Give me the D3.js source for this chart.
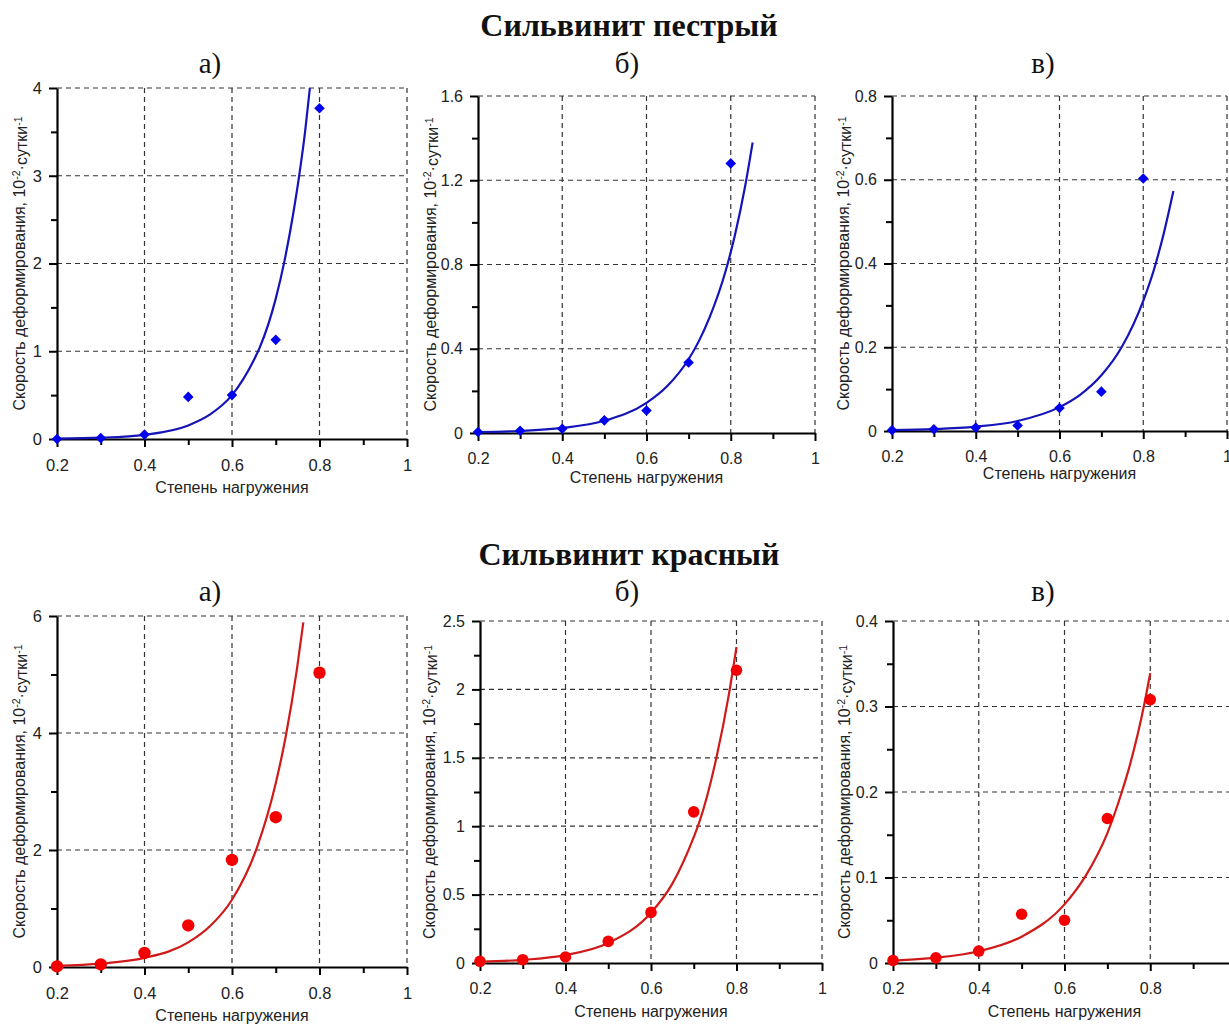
<!DOCTYPE html>
<html>
<head>
<meta charset="utf-8">
<script src="https://cdnjs.cloudflare.com/ajax/libs/d3/7.8.5/d3.min.js"></script>
<style>
  body { margin: 0; background: #fff; }
  svg { display: block; }
  .tick text { font-family: "Liberation Sans", Arial, sans-serif; fill: #222; }
  .axis-title { font-family: "Liberation Sans", Arial, sans-serif; fill: #222; }
  .title { font-family: "Liberation Serif", "Times New Roman", serif; font-weight: bold; fill: #111; }
  .subtitle { font-family: "Liberation Serif", "Times New Roman", serif; fill: #111; }
</style>
</head>
<body>
<script>
// ============= Data =============
// Load level (x) for every measured point
const loadLevels = [0.2, 0.3, 0.4, 0.5, 0.6, 0.7, 0.8];

// Measured strain rates, 10^-2 day^-1
const pestryA = [0, 0.01, 0.05, 0.48, 0.50, 1.13, 3.77];
const pestryB = [0.005, 0.011, 0.02, 0.06, 0.107, 0.335, 1.28];
const pestryV = [0.002, 0.004, 0.008, 0.013, 0.055, 0.094, 0.603];
const krasnyA = [0.01, 0.045, 0.24, 0.71, 1.83, 2.56, 5.03];
const krasnyB = [0.012, 0.024, 0.044, 0.158, 0.37, 1.105, 2.14];
const krasnyV = [0.003, 0.006, 0.014, 0.057, 0.05, 0.169, 0.308];

// Trend curves
const pestryAFitX = [0.2, 0.3, 0.4, 0.5, 0.55, 0.6, 0.65, 0.664, 0.7, 0.72, 0.74, 0.755, 0.767, 0.778];
const pestryAFitY = [0.005, 0.015, 0.048, 0.155, 0.28, 0.50, 0.90, 1.05, 1.60, 2.03, 2.57, 3.05, 3.5, 4.0];
const pestryBFitX = [0.2, 0.3, 0.4, 0.5, 0.6, 0.65, 0.7, 0.724, 0.75, 0.788, 0.81, 0.834, 0.852];
const pestryBFitY = [0.004, 0.0096, 0.024, 0.058, 0.143, 0.224, 0.35, 0.435, 0.55, 0.77, 0.94, 1.17, 1.379];
const pestryVFitX = [0.2, 0.3, 0.4, 0.5, 0.6, 0.65, 0.7, 0.75, 0.8, 0.826, 0.85, 0.872];
const pestryVFitY = [0.0019, 0.0044, 0.0104, 0.024, 0.057, 0.087, 0.133, 0.203, 0.311, 0.387, 0.476, 0.573];
const krasnyAFitX = [0.2, 0.3, 0.4, 0.5, 0.55, 0.6, 0.656, 0.7, 0.723, 0.748, 0.763];
const krasnyAFitY = [0.021, 0.057, 0.155, 0.42, 0.70, 1.15, 2.02, 3.14, 3.95, 5.07, 5.89];
const krasnyBFitX = [0.2, 0.3, 0.4, 0.5, 0.6, 0.65, 0.7, 0.712, 0.753, 0.782, 0.8];
const krasnyBFitY = [0.0092, 0.023, 0.058, 0.146, 0.367, 0.58, 0.92, 1.02, 1.5, 1.96, 2.31];
const krasnyVFitX = [0.2, 0.3, 0.4, 0.5, 0.6, 0.65, 0.7, 0.735, 0.75, 0.787, 0.8];
const krasnyVFitY = [0.0028, 0.0062, 0.0138, 0.0308, 0.0686, 0.1025, 0.152, 0.202, 0.227, 0.305, 0.339];

// Tick values
const xMajorTicks = [0.2, 0.4, 0.6, 0.8, 1];
const xMinorTicks = [0.3, 0.5, 0.7, 0.9];
const yTicksA1 = [0, 1, 2, 3, 4],          yMinorA1 = [0.5, 1.5, 2.5, 3.5];
const yTicksB1 = [0, 0.4, 0.8, 1.2, 1.6],  yMinorB1 = [0.2, 0.6, 1.0, 1.4];
const yTicksV1 = [0, 0.2, 0.4, 0.6, 0.8],  yMinorV1 = [0.1, 0.3, 0.5, 0.7];
const yTicksA2 = [0, 2, 4, 6],             yMinorA2 = [1, 3, 5];
const yTicksB2 = [0, 0.5, 1, 1.5, 2, 2.5], yMinorB2 = [0.25, 0.75, 1.25, 1.75, 2.25];
const yTicksV2 = [0, 0.1, 0.2, 0.3, 0.4],  yMinorV2 = [0.05, 0.15, 0.25, 0.35];

const blueLine = '#1414b8', blueMark = '#0000f0';
const redLine = '#d01a1a', redMark = '#f50000';

// ============= Layout =============
const W = 1229, H = 1024;

const panels = [
  {vals: pestryA, fx: pestryAFitX, fy: pestryAFitY, yt: yTicksA1, ym: yMinorA1,
   left: 57, right: 407, top: 88, bottom: 439, fs: 16.5, ylx: 19, xly: 54, kind: 'diamond'},
  {vals: pestryB, fx: pestryBFitX, fy: pestryBFitY, yt: yTicksB1, ym: yMinorB1,
   left: 478, right: 815, top: 96, bottom: 433, fs: 16, ylx: 430, xly: 50, kind: 'diamond'},
  {vals: pestryV, fx: pestryVFitX, fy: pestryVFitY, yt: yTicksV1, ym: yMinorV1,
   left: 892, right: 1227, top: 96, bottom: 431, fs: 16, ylx: 843, xly: 48, kind: 'diamond'},
  {vals: krasnyA, fx: krasnyAFitX, fy: krasnyAFitY, yt: yTicksA2, ym: yMinorA2,
   left: 57, right: 407, top: 616, bottom: 967, fs: 16.5, ylx: 19, xly: 54, kind: 'circle'},
  {vals: krasnyB, fx: krasnyBFitX, fy: krasnyBFitY, yt: yTicksB2, ym: yMinorB2,
   left: 480, right: 822, top: 621, bottom: 963, fs: 16, ylx: 429, xly: 54, kind: 'circle'},
  {vals: krasnyV, fx: krasnyVFitX, fy: krasnyVFitY, yt: yTicksV2, ym: yMinorV2,
   left: 893, right: 1236, top: 621, bottom: 963, fs: 16, ylx: 844, xly: 54, kind: 'circle'}
];

const svg = d3.select('body')
  .append('svg')
  .attr('width', W)
  .attr('height', H);

svg.append('rect')
  .attr('width', W)
  .attr('height', H)
  .attr('fill', '#fff');

// ============= Titles =============
const titles = [
  {text: 'Сильвинит пестрый', y: 36},
  {text: 'Сильвинит красный', y: 565}
];
svg.selectAll('.title')
  .data(titles)
  .enter()
  .append('text')
  .attr('class', 'title')
  .attr('x', 629)
  .attr('y', d => d.y)
  .attr('text-anchor', 'middle')
  .style('font-size', '32px')
  .text(d => d.text);

const subLetters = ['а)', 'б)', 'в)'];
const subX = [210, 627, 1043];
[73, 601].forEach(rowY =>{
  svg.append('g')
    .selectAll('text')
    .data(subLetters)
    .enter()
    .append('text')
    .attr('class', 'subtitle')
    .attr('x', (d, k) => subX[k])
    .attr('y', rowY)
    .attr('text-anchor', 'middle')
    .style('font-size', '29px')
    .text(d => d);
});

// ============= Panels =============
panels.forEach((p, i) =>{
  const color = p.kind === 'diamond' ? blueLine : redLine;
  const markColor = p.kind === 'diamond' ? blueMark : redMark;

  const x = d3.scaleLinear().domain([0.2, 1]).range([p.left, p.right]);
  const y = d3.scaleLinear().domain([0, d3.max(p.yt)]).range([p.bottom, p.top]);

  const g = svg.append('g').attr('class', 'panel-' +i);

  // Dashed grid (also forms top and right border)
  g.append('g')
    .selectAll('line')
    .data(p.yt.filter(v => v > 0))
    .enter()
    .append('line')
    .attr('x1', p.left).attr('x2', p.right)
    .attr('y1', d => y(d)).attr('y2', d => y(d))
    .attr('stroke', '#333')
    .attr('stroke-width', 1.2)
    .attr('stroke-dasharray', '5,4');

  g.append('g')
    .selectAll('line')
    .data(xMajorTicks.filter(v => v > 0.2))
    .enter()
    .append('line')
    .attr('x1', d => x(d)).attr('x2', d => x(d))
    .attr('y1', p.top).attr('y2', p.bottom)
    .attr('stroke', '#333')
    .attr('stroke-width', 1.2)
    .attr('stroke-dasharray', '5,4');

  // Minor ticks
  g.append('g')
    .attr('transform', 'translate(0,' +p.bottom +')')
    .call(d3.axisBottom(x).tickValues(xMinorTicks).tickSize(6).tickSizeOuter(0).tickFormat(''))
    .call(a => a.select('.domain').remove());
  g.append('g')
    .attr('transform', 'translate(' +p.left +',0)')
    .call(d3.axisLeft(y).tickValues(p.ym).tickSize(6).tickSizeOuter(0).tickFormat(''))
    .call(a => a.select('.domain').remove());

  // Major axes
  const xAxis = g.append('g')
    .attr('transform', 'translate(0,' +p.bottom +')')
    .call(d3.axisBottom(x).tickValues(xMajorTicks).tickSize(8).tickPadding(12).tickSizeOuter(0)
      .tickFormat(d => String(+d.toFixed(2))));
  const yAxis = g.append('g')
    .attr('transform', 'translate(' +p.left +',0)')
    .call(d3.axisLeft(y).tickValues(p.yt).tickSize(8).tickPadding(7).tickSizeOuter(0)
      .tickFormat(d => String(+d.toFixed(2))));

  // tick labels that fall wholly outside the picture are not shown
  xAxis.selectAll('.tick text')
    .filter(d => x(d) - 3 > W)
    .remove();

  [xAxis, yAxis].forEach(a =>{
    a.select('.domain').attr('stroke', '#000').attr('stroke-width', 2.2);
    a.selectAll('.tick text').style('font-size', p.fs +'px');
  });
  g.selectAll('.tick line').attr('stroke', '#000').attr('stroke-width', 2);

  // Axis titles
  g.append('text')
    .attr('class', 'axis-title')
    .attr('x', (p.left + p.right) / 2)
    .attr('y', p.bottom + p.xly)
    .attr('text-anchor', 'middle')
    .style('font-size', '16px')
    .text('Степень нагружения');

  const yTitle = g.append('text')
    .attr('class', 'axis-title')
    .attr('transform', 'translate(' +p.ylx +',' +((p.top + p.bottom) / 2) +') rotate(-90)')
    .attr('text-anchor', 'middle')
    .attr('dy', '0.35em')
    .style('font-size', '16px');
  yTitle.append('tspan').text('Скорость деформирования, 10');
  yTitle.append('tspan').attr('dy', '-0.45em').style('font-size', '10.5px').text('-2');
  yTitle.append('tspan').attr('dy', '0.45em').text('·сутки');
  yTitle.append('tspan').attr('dy', '-0.45em').style('font-size', '10.5px').text('-1');

  // Trend curve
  const fit = p.fx.map((v, k) => [v, p.fy[k]]);
  g.append('path')
    .datum(fit)
    .attr('fill', 'none')
    .attr('stroke', color)
    .attr('stroke-width', 2.2)
    .attr('d', d3.line().x(d => x(d[0])).y(d => y(d[1])).curve(d3.curveMonotoneX));

  // Measured points
  const pts = loadLevels.map((v, k) => [v, p.vals[k]]);
  if(p.kind === 'diamond'){
    g.append('g')
      .selectAll('path')
      .data(pts)
      .enter()
      .append('path')
      .attr('d', d3.symbol(d3.symbolSquare, 56))
      .attr('transform', d => 'translate(' +x(d[0]) +',' +y(d[1]) +') rotate(45)')
      .attr('fill', markColor);
  } else {
    g.append('g')
      .selectAll('circle')
      .data(pts)
      .enter()
      .append('circle')
      .attr('cx', d => x(d[0]))
      .attr('cy', d => y(d[1]))
      .attr('r', i === 3 ? 6.2 : 5.8)
      .attr('fill', markColor);
  }
});
</script>
</body>
</html>
